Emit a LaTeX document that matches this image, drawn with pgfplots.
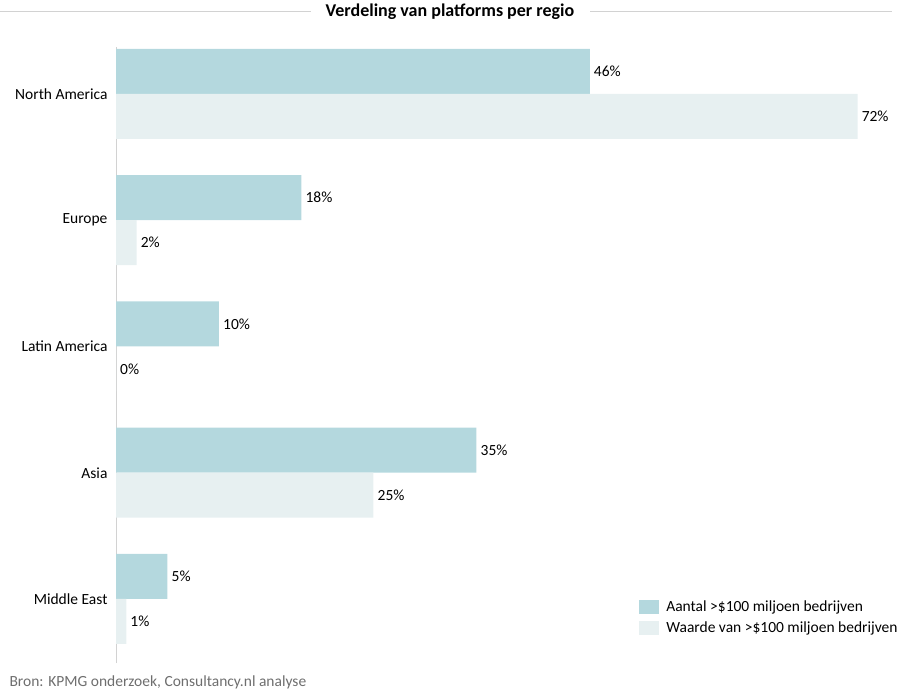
\documentclass[border=0pt]{standalone}
\usepackage{pgfplots}
\pgfplotsset{compat=1.18}
\usepackage{fontspec}
\setmainfont{Carlito}
\definecolor{darkbar}{RGB}{180,216,222}
\definecolor{lightbar}{RGB}{231,240,241}
\definecolor{axisgray}{RGB}{210,210,210}
\definecolor{srcgray}{RGB}{110,110,110}
\begin{document}
\begin{tikzpicture}
\useasboundingbox (0pt,0pt) rectangle (900pt,694pt);
% title with rules
\node[font=\fontsize{18}{21}\selectfont\bfseries] at (450pt,682pt) {Verdeling van platforms per regio};
\draw[axisgray,line width=0.8pt] (0pt,683pt) -- (311pt,683pt);
\draw[axisgray,line width=0.8pt] (590pt,683pt) -- (892pt,683pt);
% source
\node[anchor=west,text=srcgray,font=\fontsize{15.5}{18}\selectfont] at (6pt,12pt) {Bron: KPMG onderzoek, Consultancy.nl analyse};
\begin{axis}[
  at={(116pt,31pt)}, anchor=south west,
  scale only axis,
  width=774pt, height=616pt,
  xmin=0, xmax=75.15,
  ymin=-0.507, ymax=4.372,
  xbar, bar width=45pt,
  axis x line=none,
  axis y line*=left,
  axis line style={axisgray,line width=0.8pt},
  ytick={0,1,2,3,4},
  yticklabels={Middle East,Asia,Latin America,Europe,North America},
  major tick length=0pt,
  tick label style={font=\fontsize{15.5}{18}\selectfont},
  y tick label style={xshift=-5pt},
  /pgf/number format/assume math mode=true,
  nodes near coords={\pgfmathprintnumber{\pgfplotspointmeta}\%},
  nodes near coords style={font=\fontsize{15.5}{18}\selectfont, black, inner xsep=4pt, inner ysep=3pt},
  point meta=x,
  legend style={at={(0.672,0.108)}, anchor=north west, draw=none, fill=none,
    font=\fontsize{15.5}{18}\selectfont, row sep=5pt, cells={anchor=west}},
  legend image code/.code={\fill[#1] (0pt,-7pt) rectangle (20pt,7pt); \path (25pt,0pt);},
  clip=false,
]
\addplot[fill=darkbar, draw=none, bar shift=22.5pt] coordinates {(5,0) (35,1) (10,2) (18,3) (46,4)};
\addplot[fill=lightbar, draw=none, bar shift=-22.5pt] coordinates {(1,0) (25,1) (0,2) (2,3) (72,4)};
\legend{Aantal >\$100 miljoen bedrijven, Waarde van >\$100 miljoen bedrijven}
\end{axis}
\end{tikzpicture}
\end{document}
